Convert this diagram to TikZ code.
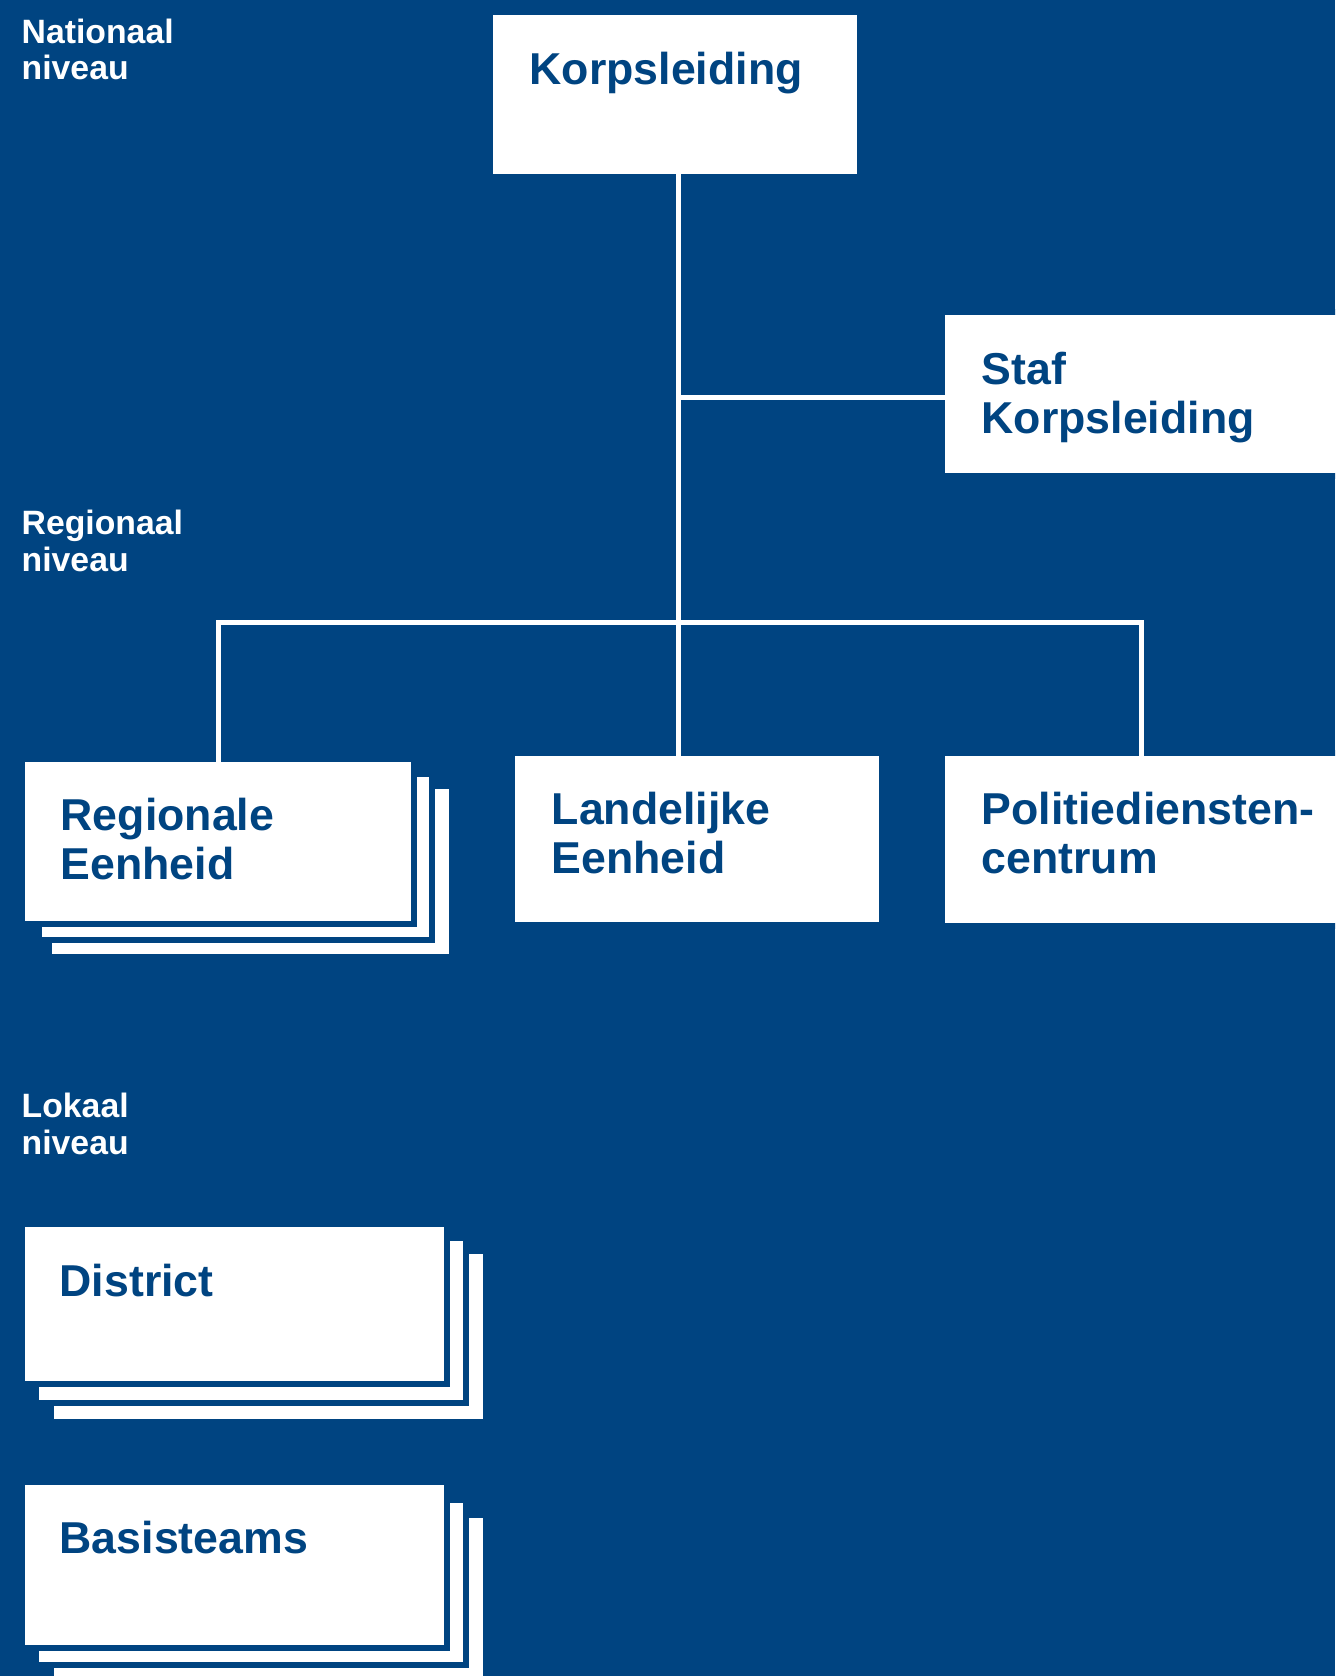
\documentclass[tikz,border=0pt]{standalone}
\usepackage{fontspec}
\setmainfont{Liberation Sans}
\definecolor{politieblue}{RGB}{0, 68, 129}
\usetikzlibrary{positioning, calc}

\begin{document}
\begin{tikzpicture}[
  x=0.01cm, y=-0.01cm,
  orgbox/.style={draw=politieblue, fill=white, line width=0.06cm, anchor=north west, inner sep=0pt, outer sep=0pt},
  sheet/.style={draw=politieblue, fill=white, line width=0.06cm},
  boxtext/.style={anchor=base west, inner sep=0pt, align=left, text=politieblue, font=\fontsize{12.7pt}{13.66pt}\selectfont\bfseries},
  leveltext/.style={anchor=base west, inner sep=0pt, align=left, text=white, font=\fontsize{9.6pt}{10.5pt}\selectfont\bfseries},
  link/.style={draw=white, line width=0.05cm, shorten <=-0.03cm, shorten >=-0.03cm}
]
  % background
  \fill[politieblue] (0,0) rectangle (1335,1676);
  \clip (0,0) rectangle (1335,1676);

  % levels (anchor = baseline of last line)
  \node[leveltext] (nat) at (21,80) {Nationaal\\niveau};
  \node[leveltext] (reg) at (21,571) {Regionaal\\niveau};
  \node[leveltext] (lok) at (21,1154) {Lokaal\\niveau};

  % national
  \node[orgbox, minimum width=3.70cm, minimum height=1.65cm] (kl) at (490,12) {};
  \node[boxtext] (kltext) at (529,85) {Korpsleiding};
  \node[orgbox, minimum width=4.10cm, minimum height=1.64cm] (staf) at (942,312) {};
  \node[boxtext] (staftext) at (981,433) {Staf\\Korpsleiding};

  % regional
  \draw[sheet] (49,786) rectangle (452,957);
  \draw[sheet] (39,774) rectangle (432,940);
  \node[orgbox, minimum width=3.92cm, minimum height=1.65cm] (re) at (22,759) {};
  \node[boxtext] (retext) at (60,879) {Regionale\\Eenheid};
  \node[orgbox, minimum width=3.70cm, minimum height=1.72cm] (le) at (512,753) {};
  \node[boxtext] (letext) at (551,873) {Landelijke\\Eenheid};
  \node[orgbox, minimum width=4.10cm, minimum height=1.73cm] (pdc) at (942,753) {};
  \node[boxtext] (pdctext) at (981,873) {Politiediensten-\\centrum};

  % local
  \draw[sheet] (51,1251) rectangle (486,1422);
  \draw[sheet] (36,1238) rectangle (466,1403);
  \node[orgbox, minimum width=4.25cm, minimum height=1.60cm] (dis) at (22,1224) {};
  \node[boxtext] (distext) at (59,1296) {District};
  \draw[sheet] (51,1515) rectangle (486,1700);
  \draw[sheet] (36,1500) rectangle (466,1665);
  \node[orgbox, minimum width=4.25cm, minimum height=1.66cm] (bas) at (22,1482) {};
  \node[boxtext] (bastext) at (59,1553) {Basisteams};

  % connectors
  \coordinate (hub) at (678,622);
  \coordinate (stafjoin) at (681,397);
  \draw[link] (kl.south -| hub) -- (hub);
  \draw[link] (stafjoin) -- (staf.west |- stafjoin);
  \draw[link] (hub) -- (le.north -| hub);
  \draw[link] (re.north -| 218,0) |- (hub) -| (pdc.north -| 1141,0);
\end{tikzpicture}
\end{document}
